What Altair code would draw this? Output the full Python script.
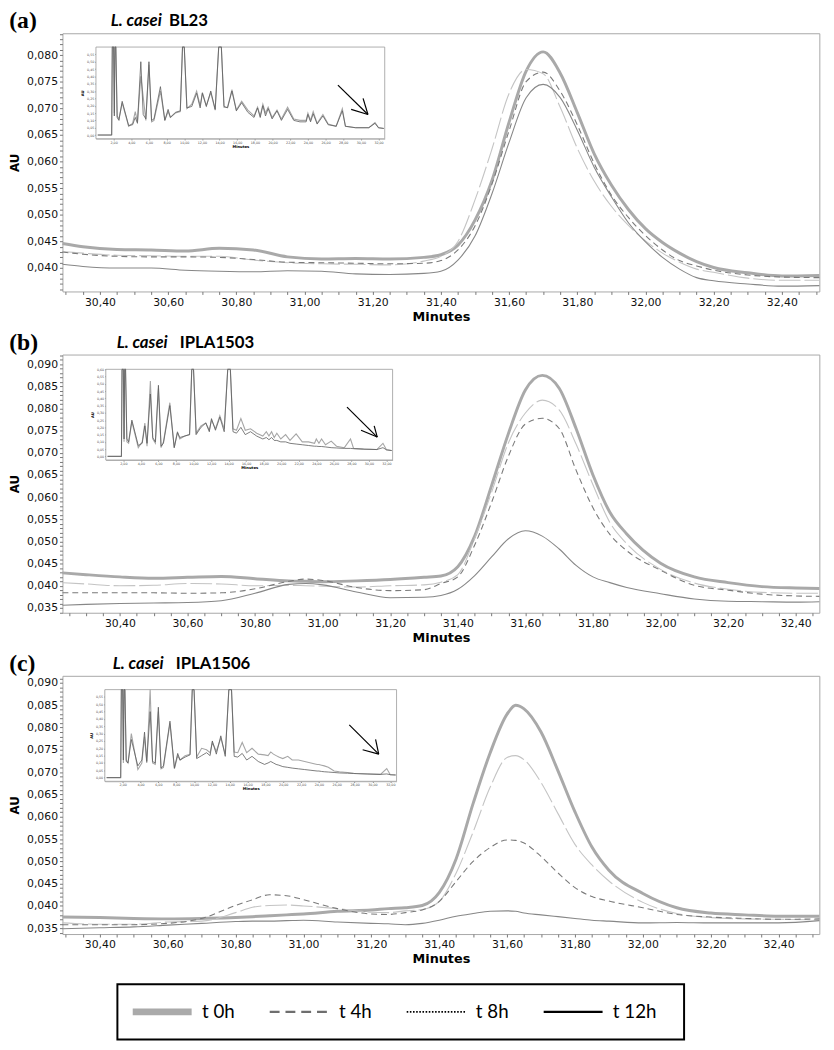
import altair as alt
import pandas as pd
import numpy as np

SERIES = ["t 0h", "t 4h", "t 8h", "t 12h"]

# ---------------- panel (a) : L. casei BL23 ----------------
A_MIN = [30.29, 30.35, 30.45, 30.55, 30.65, 30.75, 30.85, 30.95, 31.05, 31.15,
         31.25, 31.35, 31.40, 31.45, 31.50, 31.55, 31.60, 31.65, 31.70, 31.75,
         31.80, 31.85, 31.90, 31.95, 32.00, 32.05, 32.10, 32.15, 32.20, 32.30,
         32.40, 32.51]
A_T0 = [0.0446, 0.0440, 0.0435, 0.0434, 0.0432, 0.0437, 0.0434, 0.0421, 0.0417, 0.0418,
        0.0417, 0.0420, 0.0425, 0.0443, 0.0490, 0.0565, 0.0674, 0.0770, 0.0806, 0.0766,
        0.0692, 0.0614, 0.0556, 0.0510, 0.0474, 0.0448, 0.0428, 0.0412, 0.0401, 0.0391,
        0.0385, 0.0386]
A_T4 = [0.0430, 0.0426, 0.0422, 0.0421, 0.0421, 0.0420, 0.0416, 0.0411, 0.0410, 0.0409,
        0.0408, 0.0409, 0.0414, 0.0434, 0.0479, 0.0558, 0.0658, 0.0750, 0.0768, 0.0732,
        0.0669, 0.0596, 0.0537, 0.0495, 0.0461, 0.0434, 0.0414, 0.0404, 0.0396, 0.0387,
        0.0383, 0.0382]
A_T8 = [0.0431, 0.0428, 0.0424, 0.0423, 0.0422, 0.0422, 0.0415, 0.0410, 0.0408, 0.0407,
        0.0406, 0.0413, 0.0422, 0.0450, 0.0528, 0.0624, 0.0728, 0.0773, 0.0765, 0.0702,
        0.0625, 0.0563, 0.0516, 0.0480, 0.0451, 0.0428, 0.0411, 0.0398, 0.0392, 0.0381,
        0.0377, 0.0377]
A_T12 = [0.0407, 0.0403, 0.0400, 0.0400, 0.0396, 0.0394, 0.0393, 0.0395, 0.0394, 0.0389,
         0.0388, 0.0390, 0.0394, 0.0415, 0.0460, 0.0540, 0.0636, 0.0720, 0.0745, 0.0720,
         0.0659, 0.0589, 0.0534, 0.0485, 0.0449, 0.0420, 0.0398, 0.0382, 0.0376, 0.0370,
         0.0366, 0.0367]

# ---------------- panel (b) : L. casei IPLA1503 ----------------
B_MIN = [30.23, 30.30, 30.40, 30.50, 30.60, 30.70, 30.80, 30.90, 30.95, 31.00,
         31.10, 31.20, 31.30, 31.35, 31.40, 31.45, 31.50, 31.55, 31.60, 31.65,
         31.70, 31.75, 31.80, 31.85, 31.90, 32.00, 32.10, 32.20, 32.30, 32.40,
         32.47]
B_T0 = [0.0429, 0.0425, 0.0420, 0.0417, 0.0419, 0.0421, 0.0416, 0.0411, 0.0410, 0.0409,
        0.0411, 0.0414, 0.0419, 0.0422, 0.0443, 0.0512, 0.0626, 0.0744, 0.0842, 0.0875,
        0.0846, 0.0755, 0.0650, 0.0566, 0.0517, 0.0451, 0.0420, 0.0407, 0.0398, 0.0395,
        0.0394]
B_T4 = [0.0384, 0.0384, 0.0384, 0.0384, 0.0383, 0.0384, 0.0393, 0.0410, 0.0415, 0.0412,
        0.0396, 0.0389, 0.0391, 0.0405, 0.0420, 0.0492, 0.0588, 0.0693, 0.0765, 0.0778,
        0.0755, 0.0661, 0.0576, 0.0516, 0.0479, 0.0435, 0.0401, 0.0390, 0.0381, 0.0377,
        0.0376]
B_T8 = [0.0407, 0.0404, 0.0400, 0.0401, 0.0405, 0.0404, 0.0400, 0.0401, 0.0400, 0.0399,
        0.0397, 0.0400, 0.0402, 0.0408, 0.0425, 0.0507, 0.0611, 0.0723, 0.0790, 0.0819,
        0.0797, 0.0720, 0.0628, 0.0543, 0.0495, 0.0437, 0.0406, 0.0392, 0.0385, 0.0383,
        0.0383]
B_T12 = [0.0356, 0.0358, 0.0360, 0.0361, 0.0362, 0.0366, 0.0383, 0.0403, 0.0405, 0.0402,
         0.0386, 0.0373, 0.0374, 0.0378, 0.0392, 0.0423, 0.0465, 0.0506, 0.0524, 0.0512,
         0.0483, 0.0446, 0.0420, 0.0407, 0.0396, 0.0382, 0.0370, 0.0365, 0.0364, 0.0363,
         0.0364]

# ---------------- panel (c) : L. casei IPLA1506 ----------------
C_MIN = [30.29, 30.40, 30.50, 30.60, 30.70, 30.80, 30.85, 30.90, 30.95, 31.00,
         31.10, 31.20, 31.25, 31.30, 31.35, 31.40, 31.45, 31.50, 31.55, 31.60,
         31.625, 31.65, 31.70, 31.75, 31.80, 31.85, 31.90, 32.00, 32.10, 32.20,
         32.30, 32.40, 32.52]
C_T0 = [0.0375, 0.0374, 0.0372, 0.0371, 0.0372, 0.0374, 0.0376, 0.0378, 0.0380, 0.0382,
        0.0388, 0.0391, 0.0394, 0.0396, 0.0401, 0.0430, 0.0506, 0.0630, 0.0743, 0.0830,
        0.0850, 0.0842, 0.0790, 0.0703, 0.0611, 0.0532, 0.0480, 0.0428, 0.0396, 0.0384,
        0.0380, 0.0377, 0.0377]
C_T4 = [0.0358, 0.0358, 0.0358, 0.0361, 0.0372, 0.0401, 0.0414, 0.0425, 0.0423, 0.0414,
        0.0394, 0.0382, 0.0381, 0.0385, 0.0391, 0.0410, 0.0455, 0.0500, 0.0531, 0.0548,
        0.0547, 0.0541, 0.0511, 0.0474, 0.0441, 0.0421, 0.0411, 0.0396, 0.0381, 0.0375,
        0.0372, 0.0370, 0.0371]
C_T8 = [0.0362, 0.0359, 0.0359, 0.0364, 0.0366, 0.0385, 0.0397, 0.0401, 0.0402, 0.0400,
        0.0394, 0.0386, 0.0385, 0.0389, 0.0392, 0.0410, 0.0474, 0.0566, 0.0666, 0.0733,
        0.0737, 0.0728, 0.0677, 0.0607, 0.0538, 0.0492, 0.0456, 0.0408, 0.0383, 0.0374,
        0.0371, 0.0370, 0.0369]
C_T12 = [0.0349, 0.0351, 0.0353, 0.0357, 0.0361, 0.0365, 0.0366, 0.0366, 0.0367, 0.0368,
         0.0364, 0.0361, 0.0360, 0.0358, 0.0361, 0.0368, 0.0377, 0.0383, 0.0388, 0.0389,
         0.0388, 0.0384, 0.0380, 0.0376, 0.0372, 0.0368, 0.0366, 0.0362, 0.0363, 0.0362,
         0.0362, 0.0362, 0.0367]

# ---------------- full chromatogram insets ----------------
INSET_MIN = [0.2, 1.78, 1.85, 2.0, 2.08, 2.15, 2.25, 2.4, 2.6, 2.97,
             3.7, 4.15, 4.45, 4.7, 5.08, 5.35, 5.65, 6.0, 6.3, 6.57,
             7.3, 7.8, 8.17, 8.43, 9.0, 9.55, 9.8, 10.0, 10.3, 10.85,
             11.4, 11.8, 12.05, 12.5, 13.0, 13.5, 13.9, 14.2, 14.5, 14.9,
             15.4, 15.9, 16.5, 17.2, 17.9, 18.3, 18.6, 18.9, 19.2, 19.5,
             19.95, 20.5, 21.0, 21.7, 22.4, 23.1, 23.8, 24.0, 24.3, 24.6,
             25.05, 25.7, 26.3, 27.2, 27.9, 28.25, 29.4, 30.9, 31.6, 32.0, 32.6]
A_IN_DARK = [0.00, 0.00, 0.60, 0.60, 0.13, 0.60, 0.60, 0.12, 0.10, 0.23,
             0.065, 0.07, 0.12, 0.08, 0.50, 0.14, 0.11, 0.50, 0.10, 0.11,
             0.33, 0.10, 0.175, 0.12, 0.155, 0.165, 0.60, 0.60, 0.185, 0.195,
             0.285, 0.185, 0.285, 0.195, 0.30, 0.175, 0.60, 0.60, 0.195, 0.185,
             0.30, 0.165, 0.22, 0.155, 0.12, 0.185, 0.12, 0.20, 0.13, 0.18,
             0.11, 0.165, 0.10, 0.175, 0.10, 0.09, 0.09, 0.14, 0.09, 0.145,
             0.075, 0.13, 0.07, 0.06, 0.165, 0.06, 0.05, 0.05, 0.08, 0.05, 0.045]
A_IN_LIGHT = [0.00, 0.00, 0.60, 0.60, 0.15, 0.60, 0.60, 0.13, 0.11, 0.22,
              0.06, 0.08, 0.16, 0.09, 0.40, 0.26, 0.10, 0.48, 0.09, 0.10,
              0.30, 0.10, 0.16, 0.12, 0.15, 0.16, 0.60, 0.60, 0.18, 0.21,
              0.30, 0.20, 0.29, 0.20, 0.29, 0.17, 0.60, 0.60, 0.19, 0.19,
              0.31, 0.17, 0.23, 0.17, 0.13, 0.19, 0.13, 0.21, 0.15, 0.19,
              0.12, 0.17, 0.11, 0.19, 0.11, 0.10, 0.10, 0.15, 0.10, 0.16,
              0.08, 0.14, 0.075, 0.06, 0.18, 0.06, 0.05, 0.05, 0.085, 0.05, 0.045]
B_IN_DARK = [0.00, 0.00, 0.60, 0.60, 0.12, 0.60, 0.60, 0.12, 0.10, 0.25,
             0.075, 0.09, 0.21, 0.09, 0.43, 0.13, 0.10, 0.49, 0.07, 0.09,
             0.35, 0.06, 0.165, 0.13, 0.14, 0.15, 0.60, 0.60, 0.15, 0.20,
             0.23, 0.17, 0.26, 0.18, 0.27, 0.17, 0.60, 0.60, 0.17, 0.16,
             0.20, 0.15, 0.17, 0.14, 0.12, 0.13, 0.115, 0.13, 0.11, 0.11,
             0.10, 0.10, 0.09, 0.085, 0.08, 0.075, 0.07, 0.07, 0.068, 0.068,
             0.065, 0.06, 0.058, 0.055, 0.055, 0.053, 0.05, 0.047, 0.06, 0.045, 0.04]
B_IN_LIGHT = [0.00, 0.00, 0.60, 0.60, 0.10, 0.60, 0.60, 0.10, 0.09, 0.24,
              0.06, 0.10, 0.23, 0.07, 0.52, 0.12, 0.09, 0.47, 0.06, 0.10,
              0.37, 0.06, 0.17, 0.12, 0.14, 0.15, 0.60, 0.60, 0.16, 0.21,
              0.23, 0.18, 0.25, 0.19, 0.28, 0.19, 0.60, 0.60, 0.19, 0.18,
              0.26, 0.18, 0.19, 0.16, 0.14, 0.17, 0.14, 0.17, 0.13, 0.16,
              0.12, 0.15, 0.11, 0.155, 0.10, 0.10, 0.09, 0.12, 0.09, 0.12,
              0.08, 0.105, 0.07, 0.06, 0.12, 0.055, 0.05, 0.047, 0.09, 0.045, 0.04]
C_IN_DARK = [0.00, 0.00, 0.60, 0.60, 0.12, 0.60, 0.60, 0.11, 0.10, 0.26,
             0.08, 0.12, 0.31, 0.11, 0.45, 0.11, 0.10, 0.48, 0.065, 0.08,
             0.385, 0.065, 0.165, 0.12, 0.14, 0.155, 0.60, 0.60, 0.13, 0.15,
             0.17, 0.15, 0.25, 0.16, 0.285, 0.145, 0.60, 0.60, 0.145, 0.14,
             0.165, 0.12, 0.145, 0.11, 0.09, 0.10, 0.11, 0.10, 0.09, 0.085,
             0.075, 0.07, 0.065, 0.06, 0.055, 0.05, 0.045, 0.045, 0.042, 0.04,
             0.038, 0.035, 0.032, 0.03, 0.028, 0.027, 0.025, 0.022, 0.025, 0.02, 0.018]
C_IN_LIGHT = [0.00, 0.00, 0.60, 0.60, 0.10, 0.60, 0.60, 0.12, 0.10, 0.30,
              0.055, 0.10, 0.28, 0.10, 0.60, 0.10, 0.09, 0.45, 0.06, 0.07,
              0.37, 0.06, 0.15, 0.12, 0.15, 0.16, 0.60, 0.60, 0.14, 0.20,
              0.19, 0.17, 0.24, 0.18, 0.27, 0.16, 0.60, 0.60, 0.175, 0.17,
              0.24, 0.17, 0.20, 0.16, 0.155, 0.15, 0.175, 0.16, 0.15, 0.14,
              0.13, 0.145, 0.12, 0.12, 0.11, 0.10, 0.09, 0.09, 0.085, 0.08,
              0.07, 0.045, 0.04, 0.035, 0.03, 0.028, 0.025, 0.022, 0.062, 0.02, 0.018]

# arrows pointing at the ~31.6 min peak in each inset (start / end in inset units)
A_ARROW = {"x": [27.4, 30.8, 30.8], "y": [0.34, 0.14, 0.14],
           "x2": [30.8, 28.9, 30.25], "y2": [0.14, 0.175, 0.25]}
B_ARROW = {"x": [27.5, 30.95, 30.95], "y": [0.34, 0.133, 0.133],
           "x2": [30.95, 29.1, 30.6], "y2": [0.133, 0.18, 0.21]}
C_ARROW = {"x": [27.4, 30.7, 30.7], "y": [0.36, 0.16, 0.16],
           "x2": [30.7, 28.9, 30.35], "y2": [0.16, 0.19, 0.26]}

INSET_XTICKS = [2, 4, 6, 8, 10, 12, 14, 16, 18, 20, 22, 24, 26, 28, 30, 32]

W, H = 768, 262
FONT = "DejaVu Sans"

LINE_STYLE = {
    "t 0h": dict(color="#a9a9a9", strokeWidth=3.0),
    "t 8h": dict(color="#c4c4c4", strokeWidth=1.1, strokeDash=[22, 4]),
    "t 4h": dict(color="#7a7a7a", strokeWidth=1.1, strokeDash=[6, 4]),
    "t 12h": dict(color="#878787", strokeWidth=1.1),
}


def tick_values(lo, hi, step):
    start = np.ceil(lo / step - 1e-9) * step
    return [round(float(v), 4) for v in np.arange(start, hi + 1e-9, step)]


def panel(letter, strain_it, strain_rest, it_dx, rest_dx, mins, t0, t4, t8, t12,
          xdom, ydom, idark, ilight, arrow, ixr, iyr, iymax_label):
    df = pd.DataFrame({"minute": mins, "t 0h": t0, "t 4h": t4, "t 8h": t8, "t 12h": t12})
    df = df.melt("minute", var_name="series", value_name="au")
    xs = alt.Scale(domain=xdom, nice=False, zero=False)
    ys = alt.Scale(domain=ydom, nice=False, zero=False)
    xa = alt.Axis(values=tick_values(xdom[0], xdom[1], 0.05),
                  labelExpr="abs(datum.value*5 - round(datum.value*5)) < 0.001 ? replace(format(datum.value, '.2f'), '.', ',') : ''",
                  title="Minutes", titleFont=FONT, titleFontSize=13, titleFontWeight="bold",
                  titleColor="#000", titlePadding=3, labelFont=FONT, labelFontSize=11,
                  labelColor="#111", labelPadding=2, labelOverlap=False, labelFlush=False,
                  tickSize=3, tickColor="#777", domain=False, grid=False)
    ya = alt.Axis(values=tick_values(ydom[0], ydom[1], 0.001),
                  labelExpr="abs(datum.value*200 - round(datum.value*200)) < 0.001 ? replace(format(datum.value, '.3f'), '.', ',') : ''",
                  title="AU", titleFont=FONT, titleFontSize=12, titleFontWeight="bold",
                  titleColor="#000", titlePadding=5, labelFont=FONT, labelFontSize=11,
                  labelColor="#111", labelPadding=2, labelOverlap=False, labelFlush=False,
                  tickSize=3, tickColor="#777", domain=False, grid=False)
    layers = []
    for s in ["t 0h", "t 8h", "t 4h", "t 12h"]:
        layers.append(
            alt.Chart(df[df.series == s]).mark_line(interpolate="monotone", **LINE_STYLE[s]).encode(
                x=alt.X("minute:Q", scale=xs, axis=xa),
                y=alt.Y("au:Q", scale=ys, axis=ya)))
    one = pd.DataFrame({"k": [0]})
    t_letter = alt.Chart(one).mark_text(font="Liberation Serif", fontSize=24, fontWeight="bold",
                                        align="left", baseline="middle", color="black").encode(
        x=alt.value(-54), y=alt.value(-12), text=alt.value(letter))
    t_it = alt.Chart(one).mark_text(font="Lato", fontSize=17, fontWeight="bold", fontStyle="italic",
                                    align="left", baseline="middle", color="black").encode(
        x=alt.value(it_dx), y=alt.value(-12), text=alt.value(strain_it))
    t_rest = alt.Chart(one).mark_text(font="Lato", fontSize=17, fontWeight="bold",
                                      align="left", baseline="middle", color="black").encode(
        x=alt.value(rest_dx), y=alt.value(-12), text=alt.value(strain_rest))
    main = alt.layer(*layers, t_letter, t_it, t_rest)

    # inset
    idf = pd.DataFrame({"min": INSET_MIN, "dark": idark, "light": ilight})
    ixs = alt.Scale(domain=[0, 32.7], range=list(ixr), nice=False, zero=False)
    iys = alt.Scale(domain=[-0.025, 0.6], range=[iyr[1], iyr[0]], nice=False, zero=False)
    ixa = alt.Axis(orient="bottom", offset=-(H - iyr[1]), values=INSET_XTICKS,
                   labelExpr="replace(format(datum.value, '.2f'), '.', ',')",
                   labelFont=FONT, labelFontSize=3.3, labelColor="#444", labelPadding=0.5,
                   labelOverlap=False, labelFlush=False, tickSize=1.2, tickColor="#888",
                   domainColor="#999", domainWidth=0.7, title="Minutes", titleFont=FONT,
                   titleFontSize=3.8, titleFontWeight="bold", titlePadding=0.5, grid=False)
    iya = alt.Axis(orient="left", offset=-ixr[0],
                   values=[round(v * 0.05, 2) for v in range(0, int(round(iymax_label / 0.05)) + 1)],
                   labelExpr="replace(format(datum.value, '.2f'), '.', ',')",
                   labelFont=FONT, labelFontSize=3.3, labelColor="#444", labelPadding=1,
                   labelOverlap=False, labelFlush=False, tickSize=1.2, tickColor="#888",
                   domainColor="#999", domainWidth=0.7, title="AU", titleFont=FONT,
                   titleFontSize=3.8, titleFontWeight="bold", titlePadding=2, grid=False)
    frame = alt.Chart(pd.DataFrame({"x0": [0.0], "x1": [32.7], "y0": [-0.025], "y1": [0.6]})).mark_rect(
        fill="white", stroke="#9a9a9a", strokeWidth=0.8).encode(
        x=alt.X("x0:Q", scale=ixs, axis=ixa), x2="x1:Q",
        y=alt.Y("y0:Q", scale=iys, axis=iya), y2="y1:Q")
    light = alt.Chart(idf).mark_line(color="#a6a6a6", strokeWidth=1.1).encode(
        x=alt.X("min:Q", scale=ixs, axis=ixa), y=alt.Y("light:Q", scale=iys, axis=iya))
    dark = alt.Chart(idf).mark_line(color="#5c5c5c", strokeWidth=0.8).encode(
        x=alt.X("min:Q", scale=ixs, axis=ixa), y=alt.Y("dark:Q", scale=iys, axis=iya))
    arr = alt.Chart(pd.DataFrame(arrow)).mark_rule(color="black", strokeWidth=1.2).encode(
        x=alt.X("x:Q", scale=ixs, axis=ixa), y=alt.Y("y:Q", scale=iys, axis=iya),
        x2="x2:Q", y2="y2:Q")
    inset = alt.layer(frame, light, dark, arr)

    return alt.layer(main, inset).resolve_scale(x="independent", y="independent").properties(
        width=W, height=H, view=alt.ViewBackground(stroke="#a8a8a8", strokeWidth=1))


pa = panel("(a)", "L. casei", "BL23", 49, 108, A_MIN, A_T0, A_T4, A_T8, A_T12,
           [30.29, 32.51], [0.0356, 0.0841], A_IN_DARK, A_IN_LIGHT, A_ARROW,
           (34, 327), (14, 107), 0.55)
pb = panel("(b)", "L. casei", "IPLA1503", 55, 119, B_MIN, B_T0, B_T4, B_T8, B_T12,
           [30.23, 32.47], [0.0339, 0.0922], B_IN_DARK, B_IN_LIGHT, B_ARROW,
           (44, 335), (15, 107), 0.60)
pc = panel("(c)", "L. casei", "IPLA1506", 51, 115, C_MIN, C_T0, C_T4, C_T8, C_T12,
           [30.29, 32.52], [0.0337, 0.0916], C_IN_DARK, C_IN_LIGHT, C_ARROW,
           (43, 339), (14, 107), 0.55)

# ---------------- legend box ----------------
leg_df = pd.DataFrame({"label": SERIES, "slot": [0, 1, 2, 3], "row": [0, 0, 0, 0]})
LEG_STYLE = {
    "t 0h": dict(color="#aaaaaa", strokeWidth=7),
    "t 4h": dict(color="#6e6e6e", strokeWidth=2.2, strokeDash=[10, 6]),
    "t 8h": dict(color="#000000", strokeWidth=1.6, strokeDash=[1.6, 1.6]),
    "t 12h": dict(color="#000000", strokeWidth=2.4),
}
lxs = alt.Scale(domain=[-0.112, 4.025], nice=False, zero=False)
lys = alt.Scale(domain=[-1, 1], nice=False, zero=False)
lxa = alt.Axis(orient="top", labels=False, ticks=False, domain=False, title=None, grid=False,
               minExtent=11, maxExtent=11)
lya = alt.Axis(orient="right", labels=False, ticks=False, domain=False, title=None, grid=False,
               minExtent=87, maxExtent=87)
leg_layers = []
for s in SERIES:
    leg_layers.append(
        alt.Chart(leg_df).transform_filter(alt.datum.label == s)
        .transform_calculate(end="datum.slot + 0.43")
        .mark_rule(**LEG_STYLE[s])
        .encode(x=alt.X("slot:Q", scale=lxs, axis=lxa), x2="end:Q",
                y=alt.Y("row:Q", scale=lys, axis=lya)))
leg_text = alt.Chart(leg_df).transform_calculate(tx="datum.slot + 0.505").mark_text(
    font="Lato", fontSize=19, align="left", baseline="middle", color="black").encode(
    x=alt.X("tx:Q", scale=lxs, axis=lxa), y=alt.Y("row:Q", scale=lys, axis=lya), text="label:N")
legend = alt.layer(*leg_layers, leg_text).properties(
    width=575, height=56, view=alt.ViewBackground(stroke="black", strokeWidth=2))

chart = alt.vconcat(pa, pb, pc, legend, spacing=6, center=True).properties(
    padding={"left": 0, "top": -7, "right": 0, "bottom": 0}).configure(
    font=FONT).configure_axis(grid=False)

chart.save("out.html", embed_options={"renderer": "svg", "actions": False})
